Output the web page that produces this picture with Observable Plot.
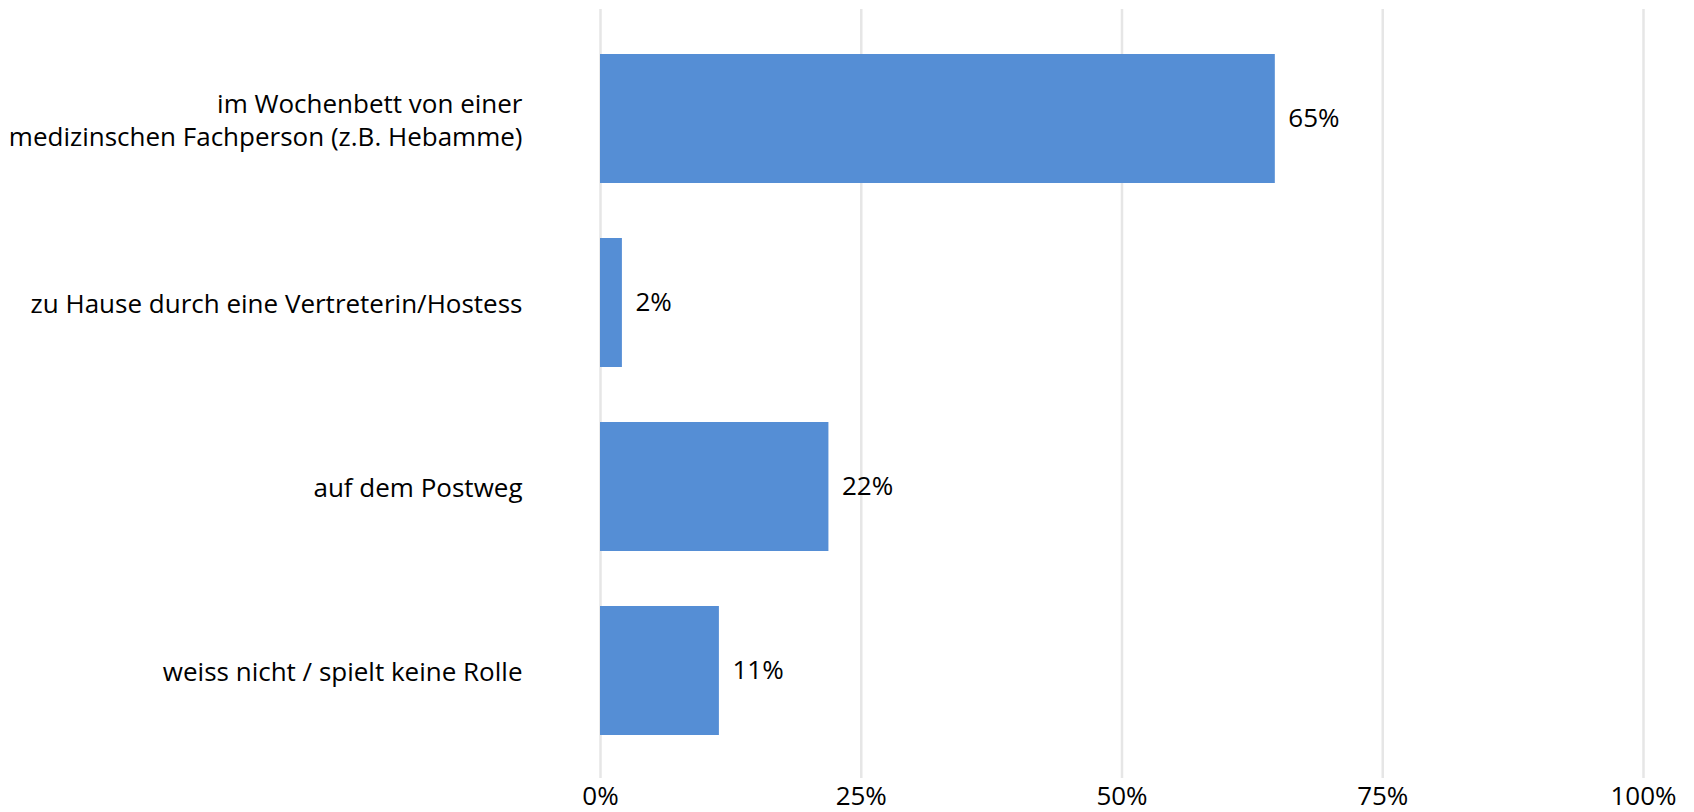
<!DOCTYPE html>
<html>
<head>
<meta charset="utf-8">
<script src="https://cdn.jsdelivr.net/npm/d3@7"></script>
<script src="https://cdn.jsdelivr.net/npm/@observablehq/plot@0.6"></script>
<style>
  html, body { margin: 0; padding: 0; background: #fff; }
</style>
</head>
<body>
<div id="chart"></div>
<script>
const categories = [
  "im Wochenbett von einer\nmedizinschen Fachperson (z.B. Hebamme)",
  "zu Hause durch eine Vertreterin/Hostess",
  "auf dem Postweg",
  "weiss nicht / spielt keine Rolle"
];
const values = [0.647, 0.021, 0.219, 0.114];
const valueLabels = ["65%", "2%", "22%", "11%"];
const xTicks = [0, 0.25, 0.5, 0.75, 1];
const xTickLabels = ["0%", "25%", "50%", "75%", "100%"];

const data = categories.map((c, i) => ({category: c, value: values[i], label: valueLabels[i]}));

const chart = Plot.plot({
  width: 1694,
  height: 812,
  marginLeft: 600,
  marginRight: 51,
  marginTop: 26,
  marginBottom: 50,
  style: {fontFamily: "'Open Sans', Lato, sans-serif", fontSize: "26px", color: "#000", background: "#fff"},
  x: {domain: [0, 1]},
  y: {domain: categories, paddingInner: 0.3, paddingOuter: 0.15},
  marks: [
    Plot.ruleX(xTicks, {stroke: "#e6e6e6", strokeWidth: 2.5, insetTop: -17, insetBottom: -16}),
    Plot.barX(data, {x: "value", y: "category", fill: "#558ED5"}),
    Plot.text(data, {x: "value", y: "category", text: "label", textAnchor: "start", dx: 13, fontSize: 26, fill: "#000"}),
    Plot.axisX(xTicks, {tickSize: 0, tickPadding: 24, fontSize: 26, tickFormat: (d, i) => xTickLabels[i], anchor: "bottom", label: null}),
    Plot.axisY({tickSize: 0, tickPadding: 78, fontSize: 26, label: null, lineHeight: 1.25})
  ]
});
document.getElementById("chart").appendChild(chart);
</script>
</body>
</html>
